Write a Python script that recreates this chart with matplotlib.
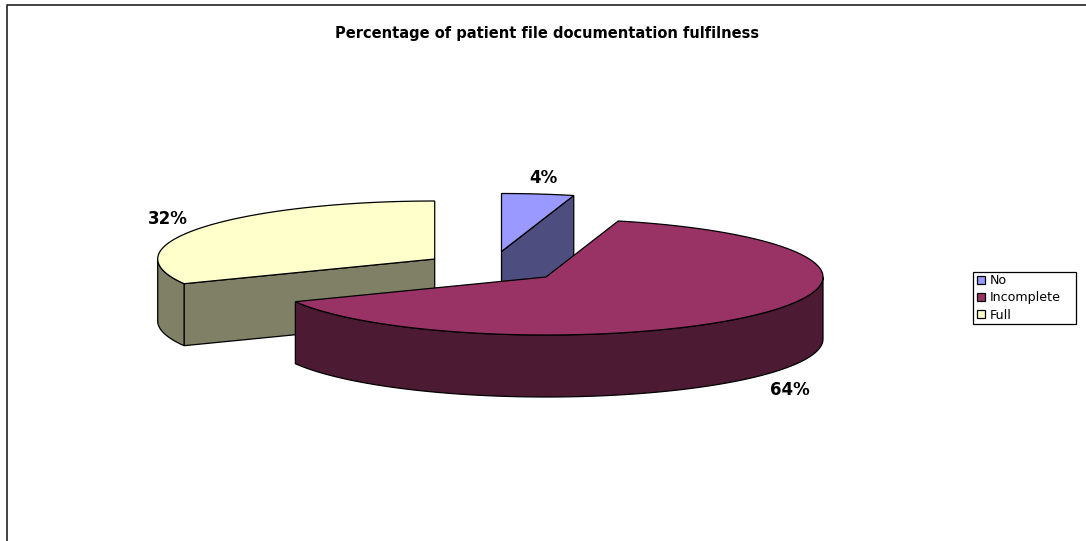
import numpy as np
import matplotlib
matplotlib.use('Agg')
import matplotlib.pyplot as plt
from matplotlib.patches import Polygon, Patch, Rectangle

plt.rcParams['font.family'] = ['DejaVu Sans']

labels = ['No', 'Incomplete', 'Full']
shares = [4.2, 63.8, 32]
pct_labels = ['4%', '64%', '32%']
top_colors = ['#9999ff', '#993366', '#ffffcc']
side_colors = ['#4d4d80', '#4d1a33', '#808066']

# pie layout in pixels, each slice is pulled out so has its own apex
centers = [(501.5, 251.5), (546, 277), (434.7, 259)]
label_pos = [(543.5, 178), (789.5, 390), (168, 218.5)]
rx, ry = 277, 58
depth = 62

fig = plt.figure(figsize=(10.86, 5.41), dpi=100)
ax = fig.add_axes([0, 0, 1, 1])
ax.set_xlim(0, 1086)
ax.set_ylim(541, 0)
ax.axis('off')

count = [1]
def z():
    count[0] += 1
    return count[0]


def rim(c, t):
    t = np.radians(t)
    return np.column_stack([c[0] + rx*np.sin(t), c[1] - ry*np.cos(t)])


def draw_slice(c, a0, a1, top, side):
    # radial faces, only seen when they open towards the viewer
    for a, show in [(a0, 180 < a0 < 270), (a1, a1 < 90)]:
        if show:
            p = rim(c, np.array([a]))[0]
            ax.add_patch(Polygon([c, p, (p[0], p[1]+depth), (c[0], c[1]+depth)],
                                 fc=side, ec='k', lw=0.9, zorder=z()))
    # outer wall, front half only
    lo, hi = max(a0, 90), min(a1, 270)
    if hi > lo:
        arc = rim(c, np.linspace(lo, hi, 120))
        low = arc + [0, depth]
        ax.add_patch(Polygon(np.vstack([arc, low[::-1]]), fc=side, ec='k', lw=0.9, zorder=z()))
    arc = rim(c, np.linspace(a0, a1, 200))
    ax.add_patch(Polygon(np.vstack([[c], arc]), fc=top, ec='k', lw=0.9, zorder=z()))


edges = np.cumsum([0] + shares) / sum(shares) * 360
for i in [0, 2, 1]:
    draw_slice(centers[i], edges[i], edges[i+1], top_colors[i], side_colors[i])

for s, p in zip(pct_labels, label_pos):
    ax.text(p[0], p[1], s, fontsize=12, fontweight='bold', ha='center', va='center', zorder=50)

ax.text(547, 33.5, 'Percentage of patient file documentation fulfilness',
        fontsize=10.55, fontweight='bold', ha='center', va='center')

# chart frame, only top and left show in the crop
ax.plot([6.5, 6.5, 1086], [541, 5, 5], color='#222222', lw=1.2, zorder=60, clip_on=False)

# legend frame drawn apart, it has more room on the right than on the left
ax.add_patch(Rectangle((972.5, 271.5), 103.5, 52.5, fc='white', ec='k', lw=0.9, zorder=65))
handles = [Patch(fc=c, ec='k', lw=0.9, label=l) for c, l in zip(top_colors, labels)]
leg = ax.legend(handles=handles, loc='center left', bbox_to_anchor=(977, 298),
                bbox_transform=ax.transData, fontsize=9.1, frameon=False,
                handlelength=0.65, handleheight=0.65,
                handletextpad=0.35, labelspacing=0.33, borderpad=0, borderaxespad=0)
leg.set_zorder(70)

fig.savefig('out.png', dpi=100)
